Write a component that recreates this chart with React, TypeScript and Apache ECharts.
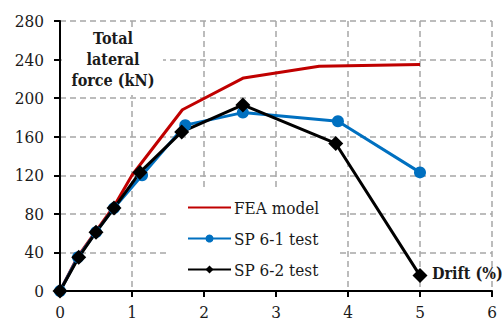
import React, { useEffect, useRef } from "react";
import * as echarts from "echarts";

const xTicks = [0, 1, 2, 3, 4, 5, 6];
const yTicks = [0, 40, 80, 120, 160, 200, 240, 280];

const feaDrift = [0, 0.25, 0.5, 0.75, 1.0, 1.7, 2.55, 3.6, 5];
const feaForce = [0, 36, 62, 88, 120, 188, 221, 233, 235];
const sp61Drift = [0, 0.25, 0.5, 0.75, 1.14, 1.74, 2.54, 3.86, 5];
const sp61Force = [0, 35, 61, 86, 120, 172, 185, 176, 123];
const sp62Drift = [0, 0.26, 0.5, 0.75, 1.11, 1.69, 2.54, 3.83, 5];
const sp62Force = [0, 35, 61, 86, 123, 165, 193, 153, 16];

const seriesNames = ["FEA model", "SP 6-1 test", "SP 6-2 test"];
const yTitleLines = ["Total", "lateral", "force (kN)"];
const xTitle = "Drift (%)";

const pairs = (xs: number[], ys: number[]) => xs.map((x, i) => [x, ys[i]]);

const SERIF = "DejaVu Serif Condensed, DejaVu Serif";

export default function App() {
  const ref = useRef<HTMLDivElement>(null);
  useEffect(() => {
    if (!ref.current) return;
    const chart = echarts.init(ref.current, null, { renderer: "svg" });
    const dash = { color: "#A6A6A6", width: 1.5, type: [6, 4] as any };
    chart.setOption({
      animation: false,
      backgroundColor: "#fff",
      textStyle: { fontFamily: SERIF },
      grid: { left: 60, right: 10, top: 21, bottom: 29 },
      xAxis: {
        type: "value",
        min: xTicks[0],
        max: xTicks[xTicks.length - 1],
        interval: 1,
        axisLine: { show: true, onZero: false, lineStyle: { color: "#000", width: 2 } },
        axisTick: { show: true, inside: false, length: 6, lineStyle: { color: "#000", width: 2 } },
        axisLabel: { fontFamily: SERIF, fontSize: 17, color: "#1a1a1a", margin: 12 },
        splitLine: { show: true, lineStyle: dash },
      },
      yAxis: {
        type: "value",
        min: yTicks[0],
        max: yTicks[yTicks.length - 1],
        interval: 40,
        axisLine: { show: true, lineStyle: { color: "#000", width: 2 } },
        axisTick: { show: true, inside: false, length: 6, lineStyle: { color: "#000", width: 2 } },
        axisLabel: { fontFamily: SERIF, fontSize: 17, color: "#1a1a1a", margin: 16 },
        splitLine: { show: true, lineStyle: dash },
      },
      legend: {
        orient: "vertical",
        left: 168,
        top: 190,
        backgroundColor: "#fff",
        padding: [9, 18, 10, 19],
        itemWidth: 43,
        itemHeight: 10,
        itemGap: 14,
        textStyle: { fontFamily: SERIF, fontSize: 17, color: "#1a1a1a", padding: [0, 0, 0, -2] },
        data: [
          { name: seriesNames[0], itemStyle: { opacity: 0 } },
          { name: seriesNames[1] },
          { name: seriesNames[2] },
        ],
      },
      graphic: [
        {
          type: "rect",
          z: 10,
          shape: { x: 62, y: 27, width: 101, height: 68 },
          style: { fill: "#fff" },
        },
        ...yTitleLines.map((t, i) => ({
          type: "text",
          z: 11,
          x: 113,
          y: 38 + i * 21,
          style: {
            text: t,
            fontFamily: SERIF,
            fontSize: 16,
            fontWeight: "bold",
            fill: "#1a1a1a",
            textAlign: "center",
            textVerticalAlign: "middle",
          },
        })),
        {
          type: "text",
          z: 11,
          x: 432,
          y: 273,
          style: {
            text: xTitle,
            fontFamily: SERIF,
            fontSize: 16,
            fontWeight: "bold",
            fill: "#1a1a1a",
            textAlign: "left",
            textVerticalAlign: "middle",
          },
        },
      ],
      series: [
        {
          name: seriesNames[0],
          type: "line",
          data: pairs(feaDrift, feaForce),
          showSymbol: false,
          symbol: "none",
          clip: false,
          lineStyle: { color: "#C00000", width: 3 },
          itemStyle: { color: "#C00000" },
        },
        {
          name: seriesNames[1],
          type: "line",
          data: pairs(sp61Drift, sp61Force),
          symbol: "circle",
          symbolSize: 12,
          clip: false,
          lineStyle: { color: "#0070C0", width: 3 },
          itemStyle: { color: "#0070C0" },
        },
        {
          name: seriesNames[2],
          type: "line",
          data: pairs(sp62Drift, sp62Force),
          symbol: "diamond",
          symbolSize: 15,
          clip: false,
          lineStyle: { color: "#000", width: 3 },
          itemStyle: { color: "#000" },
        },
      ],
    });
    return () => chart.dispose();
  }, []);
  return (
    <div
      ref={ref}
      style={{ position: "absolute", left: 0, top: 0, width: 502, height: 320 }}
    />
  );
}
